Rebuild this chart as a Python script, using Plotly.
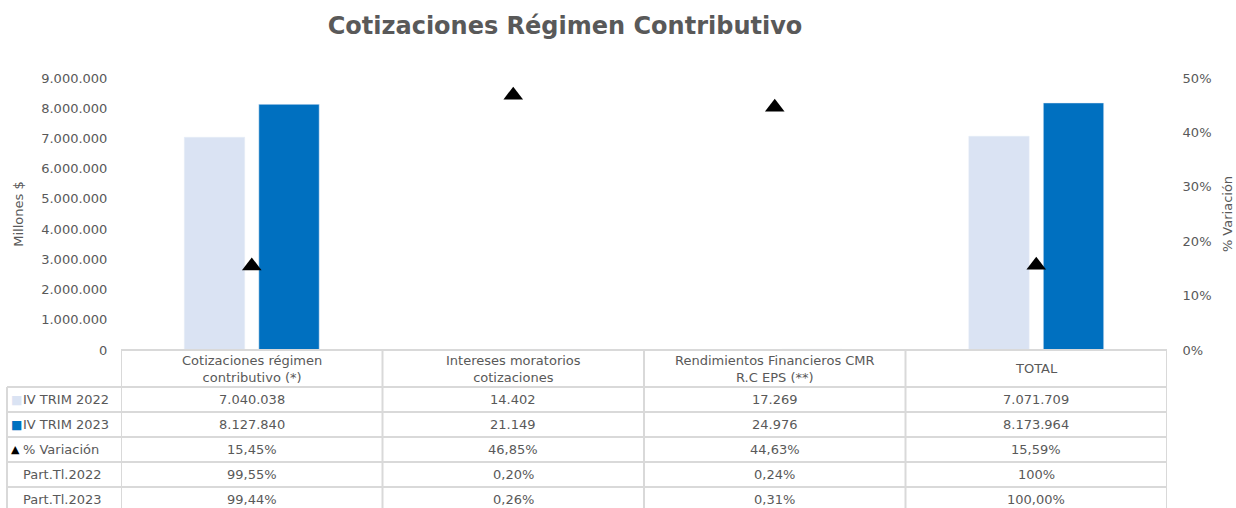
import plotly.graph_objects as go

# ---------------- data ----------------
categories = ["Cotizaciones régimen contributivo (*)",
              "Intereses moratorios cotizaciones",
              "Rendimientos Financieros CMR R.C EPS (**)",
              "TOTAL"]
header_labels = ["Cotizaciones régimen<br>contributivo (*)",
                 "Intereses moratorios<br>cotizaciones",
                 "Rendimientos Financieros CMR<br>R.C EPS (**)",
                 "TOTAL"]
trim_2022 = [7040038, 14402, 17269, 7071709]
trim_2023 = [8127840, 21149, 24976, 8173964]
variacion_pct = [15.45, 46.85, 44.63, 15.59]
part_2022 = ["99,55%", "0,20%", "0,24%", "100%"]
part_2023 = ["99,44%", "0,26%", "0,31%", "100,00%"]
row_labels = ["IV TRIM 2022", "IV TRIM 2023", "% Variación", "Part.Tl.2022", "Part.Tl.2023"]
left_ticks = [0, 1000000, 2000000, 3000000, 4000000, 5000000, 6000000, 7000000, 8000000, 9000000]
right_ticks = [0, 0.1, 0.2, 0.3, 0.4, 0.5]

# ---------------- style ----------------
FONT = "Verdana, DejaVu Sans, sans-serif"
TXT = "#595959"
C22 = "#dae3f3"
C23 = "#0070c0"
GRID = "#d9d9d9"

W, H = 1236, 508
ML, MR, MT, MB = 121, 69, 78, 158
PW, PH = W - ML - MR, H - MT - MB


def px_x(px):
    return (px - ML) / PW


def px_y(py):
    return (H - MB - py) / PH


def fmt_int(v):
    return f"{v:,}".replace(",", ".")


def fmt_pct(v):
    return f"{v:.2f}".replace(".", ",") + "%"


fig = go.Figure()
fig.add_trace(go.Bar(x=categories, y=trim_2022, name="IV TRIM 2022",
                     marker_color=C22, yaxis="y"))
fig.add_trace(go.Bar(x=categories, y=trim_2023, name="IV TRIM 2023",
                     marker_color=C23, yaxis="y"))
fig.add_trace(go.Scatter(x=categories, y=[v / 100 for v in variacion_pct],
                         name="% Variación", mode="markers", yaxis="y2",
                         marker=dict(symbol="triangle-up", size=17, color="black")))

# ---------------- data table (shapes + annotations) ----------------
shapes = []
annotations = []
line = dict(color=GRID, width=2)
header_top, header_bot, row_h = 350, 387, 25
row_tops = [header_bot + i * row_h for i in range(len(row_labels))]

# top of header (spans data columns only)
shapes.append(dict(type="line", xref="x", yref="paper", x0=-0.5, x1=len(categories) - 0.5,
                   y0=px_y(header_top), y1=px_y(header_top), line=line))
for yt in row_tops:
    shapes.append(dict(type="line", xref="paper", yref="paper", x0=px_x(7), x1=1,
                       y0=px_y(yt), y1=px_y(yt), line=line))
for k in range(len(categories) + 1):
    shapes.append(dict(type="line", xref="x", yref="paper", x0=k - 0.5, x1=k - 0.5,
                       y0=px_y(header_top), y1=px_y(H + 20), line=line))
shapes.append(dict(type="line", xref="paper", yref="paper", x0=px_x(7), x1=px_x(7),
                   y0=px_y(header_bot), y1=px_y(H + 20), line=line))

tfont = dict(family=FONT, size=13, color=TXT)
for i, c in enumerate(categories):
    annotations.append(dict(x=c, xref="x", y=px_y((header_top + header_bot) / 2), yref="paper",
                            text=header_labels[i], showarrow=False, font=tfont,
                            xanchor="center", yanchor="middle", align="center"))

rows = [[fmt_int(v) for v in trim_2022],
        [fmt_int(v) for v in trim_2023],
        [fmt_pct(v) for v in variacion_pct],
        part_2022,
        part_2023]
for r, vals in enumerate(rows):
    yc = px_y(row_tops[r] + row_h / 2)
    for i, c in enumerate(categories):
        annotations.append(dict(x=c, xref="x", y=yc, yref="paper", text=vals[i],
                                showarrow=False, font=tfont, xanchor="center", yanchor="middle"))
    annotations.append(dict(x=px_x(21), xref="paper", y=yc, yref="paper", text=row_labels[r],
                            showarrow=False, font=tfont, xanchor="left", yanchor="middle"))

legend_keys = [("■", C22, 12), ("■", C23, 12), ("▲", "black", 11)]
for r, (sym, col, sz) in enumerate(legend_keys):
    annotations.append(dict(x=px_x(9), xref="paper", y=px_y(row_tops[r] + row_h / 2), yref="paper",
                            text=sym, showarrow=False,
                            font=dict(family=FONT, size=sz, color=col),
                            xanchor="left", yanchor="middle"))

fig.update_layout(
    width=W, height=H, autosize=False,
    margin=dict(l=ML, r=MR, t=MT, b=MB, autoexpand=False),
    paper_bgcolor="white", plot_bgcolor="white",
    separators=",.",
    font=dict(family=FONT, size=13, color=TXT),
    title=dict(text="<b>Cotizaciones Régimen Contributivo</b>", x=565 / W, xref="container",
               xanchor="center", y=1 - 26 / H, yref="container", yanchor="middle",
               automargin=False,
               font=dict(family=FONT, size=24, color=TXT)),
    showlegend=False,
    barmode="group", bargap=0.43, bargroupgap=0.19,
    xaxis=dict(showticklabels=False, showgrid=False, zeroline=False, showline=False,
               range=[-0.5, len(categories) - 0.5], fixedrange=True, automargin=False),
    yaxis=dict(range=[0, 9000000], tickvals=left_ticks, tickformat=",.0f",
               showgrid=False, zeroline=False, showline=False, automargin=False,
               ticks="outside", ticklen=10, tickcolor="rgba(0,0,0,0)",
               title=dict(text="Millones $", standoff=14, font=dict(family=FONT, size=13, color=TXT)),
               tickfont=dict(family=FONT, size=13, color=TXT)),
    yaxis2=dict(range=[0, 0.5], tickvals=right_ticks, tickformat=".0%", overlaying="y",
                side="right", showgrid=False, zeroline=False, showline=False, automargin=False,
                ticks="outside", ticklen=12, tickcolor="rgba(0,0,0,0)",
                title=dict(text="% Variación", standoff=12, font=dict(family=FONT, size=13, color=TXT)),
                tickfont=dict(family=FONT, size=13, color=TXT)),
    shapes=shapes,
    annotations=annotations,
)

fig.write_html("out.html", config={"displayModeBar": False},
               post_script="document.body.style.margin='0px';document.body.style.overflow='hidden';")
